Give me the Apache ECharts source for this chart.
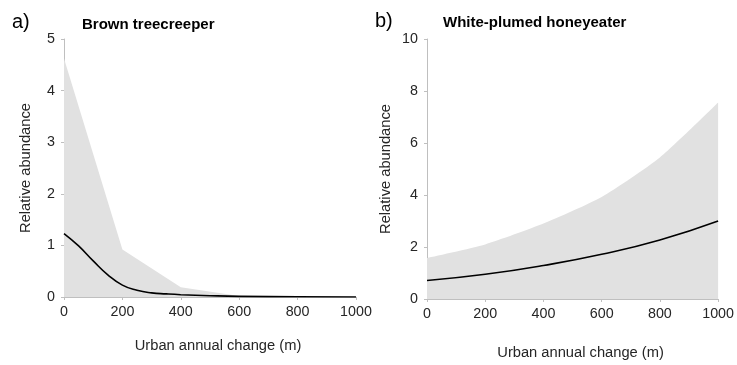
<!DOCTYPE html>
<html>
<head>
<meta charset="utf-8">
<script src="https://cdn.jsdelivr.net/npm/echarts@6/dist/echarts.min.js"></script>
<style>
  html, body { margin: 0; padding: 0; background: #fff; }
  #charts { width: 737px; height: 365px; }
</style>
</head>
<body>
<div id="charts"></div>
<script>
var chartDom = document.getElementById('charts');
var myChart = echarts.init(chartDom);
var option;

// x positions (m)
var bandX = [0, 200, 400, 600, 800, 1000];
var lineXa = [0, 50, 100, 150, 200, 250, 300, 350, 400, 500, 600, 800, 1000];
var lineXb = [0, 200, 400, 600, 800, 1000];

// Brown treecreeper
var treeUpper = [4.62, 0.92, 0.19, 0.02, 0.0, 0.0];
var treeFit = [1.23, 0.99, 0.70, 0.43, 0.23, 0.13, 0.08, 0.06, 0.045, 0.025, 0.012, 0.004, 0.001];

// White-plumed honeyeater
var honeyUpper = [1.58, 2.1, 2.9, 3.92, 5.44, 7.56];
var honeyFit = [0.71, 0.95, 1.29, 1.72, 2.27, 3.0];

function pairs(xs, ys) {
  return xs.map(function (x, i) { return [x, ys[i]]; });
}

var font = 'Liberation Sans, Arial, sans-serif';
var axisGray = '#bfbfbf';
var textCol = '#262626';

function xAxisOpt(idx, gap) {
  return {
    type: 'value', gridIndex: idx, min: 0, max: 1000, interval: 200,
    name: 'Urban annual change (m)', nameLocation: 'middle', nameGap: gap,
    nameTextStyle: { fontFamily: font, fontSize: 14.7, color: textCol, padding: [0, 0, 0, 16] },
    axisLine: { show: true, lineStyle: { color: axisGray } },
    axisTick: { show: true, length: 3, lineStyle: { color: axisGray } },
    axisLabel: { fontFamily: font, fontSize: 14.3, color: textCol, margin: 8,
      formatter: function (v) { return String(v); } },
    splitLine: { show: false }
  };
}

function yAxisOpt(idx, max, interval, gap) {
  return {
    type: 'value', gridIndex: idx, min: 0, max: max, interval: interval,
    name: 'Relative abundance', nameLocation: 'middle', nameGap: gap,
    nameTextStyle: { fontFamily: font, fontSize: 14.7, color: textCol },
    axisLine: { show: true, lineStyle: { color: axisGray } },
    axisTick: { show: true, length: 3, lineStyle: { color: axisGray } },
    axisLabel: { fontFamily: font, fontSize: 14.3, color: textCol, margin: 9 },
    splitLine: { show: false }
  };
}

option = {
  backgroundColor: '#fff',
  animation: false,
  title: [
    { text: 'a)', left: 7, top: 7, textStyle: { fontFamily: font, fontSize: 20, fontWeight: 'normal', color: '#000' } },
    { text: 'Brown treecreeper', left: 77, top: 12, textStyle: { fontFamily: font, fontSize: 15, fontWeight: 'bold', color: '#000' } },
    { text: 'b)', left: 370, top: 6, textStyle: { fontFamily: font, fontSize: 20, fontWeight: 'normal', color: '#000' } },
    { text: 'White-plumed honeyeater', left: 438, top: 10, textStyle: { fontFamily: font, fontSize: 15, fontWeight: 'bold', color: '#000' } }
  ],
  grid: [
    { left: 64, top: 39, width: 292, height: 258 },
    { left: 427, top: 39, width: 293, height: 261 }
  ],
  xAxis: [xAxisOpt(0, 41), xAxisOpt(1, 46)],
  yAxis: [yAxisOpt(0, 5, 1, 31), yAxisOpt(1, 10, 2, 34)],
  series: [
    {
      type: 'line', xAxisIndex: 0, yAxisIndex: 0, data: pairs(bandX, treeUpper),
      showSymbol: false, lineStyle: { width: 0 }, areaStyle: { color: '#e1e1e1', opacity: 1 }, z: 1
    },
    {
      type: 'line', xAxisIndex: 0, yAxisIndex: 0, data: pairs(lineXa, treeFit), smooth: true,
      showSymbol: false, lineStyle: { color: '#000', width: 1.6 }, z: 3
    },
    {
      type: 'line', xAxisIndex: 1, yAxisIndex: 1, data: pairs(bandX, honeyUpper), smooth: 0.2,
      showSymbol: false, lineStyle: { width: 0 }, areaStyle: { color: '#e1e1e1', opacity: 1 }, z: 1
    },
    {
      type: 'line', xAxisIndex: 1, yAxisIndex: 1, data: pairs(lineXb, honeyFit), smooth: true,
      showSymbol: false, lineStyle: { color: '#000', width: 1.6 }, z: 3
    }
  ]
};

option && myChart.setOption(option);
</script>
</body>
</html>
